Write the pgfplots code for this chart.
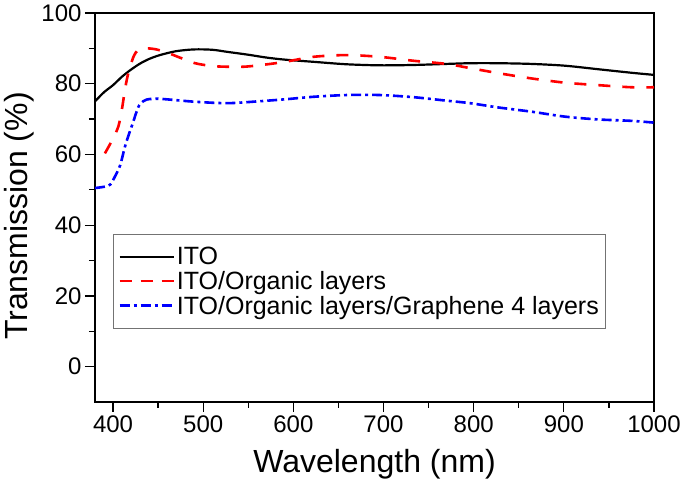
\documentclass[border=0pt]{standalone}
\usepackage{fontspec}
\setmainfont{Liberation Sans}
\usepackage{pgfplots}
\pgfplotsset{compat=1.18}

\begin{document}
\begin{tikzpicture}
  % fix the page to the reference's frame (1px = 1pt)
  \path[use as bounding box] (-95pt,-79pt) rectangle (590pt,402pt);
  \begin{axis}[
      scale only axis,
      width=559pt, height=389pt,
      xmin=380, xmax=1000,
      ymin=-10, ymax=100,
      xtick={400,500,...,1000},
      ytick={0,20,...,100},
      minor x tick num=1,
      minor y tick num=1,
      tick align=outside,
      tick pos=left,
      major tick length=10pt,
      minor tick length=6pt,
      every tick/.style={black, line width=1.3pt},
      axis line style={line width=1.5pt},
      ticklabel style={font=\fontsize{24}{28}\selectfont},
      /pgf/number format/assume math mode=true,
      /pgf/number format/set thousands separator={},
      xlabel={Wavelength (nm)},
      ylabel={Transmission (\%)},
      label style={font=\fontsize{32}{38}\selectfont},
      xlabel style={at={(axis description cs:0.5,-0.1825)}, anchor=base},
      ylabel style={at={(axis description cs:-0.12,0.478)}, anchor=base},
      legend style={
        at={(axis description cs:0.032,0.432)},
        anchor=north west,
        draw=black!55,
        line width=0.8pt,
        inner xsep=5pt,
        inner ysep=11pt,
        row sep=1pt,
        font=\fontsize{25}{29}\selectfont,
      },
      legend cell align=left,
      legend image code/.code={\draw[#1] (10pt,0pt) -- (64pt,0pt);},
    ]

    % ITO
    \addplot[black, line width=2.2pt, smooth] coordinates {
      (380,75.0) (390,77.6) (400,79.6) (410,82.0) (420,84.0) (430,85.7)
      (440,87.0) (452,88.1) (470,89.2) (490,89.7) (510,89.6) (527,89.0)
      (550,88.2) (570,87.4) (591,86.8) (622,86.2) (659,85.5) (696,85.2)
      (733,85.3) (770,85.6) (796,85.8) (827,85.8) (864,85.6) (901,85.1)
      (938,84.1) (975,83.1) (1000,82.5)
    };
    \addlegendentry{ITO}

    % ITO/Organic layers
    \addplot[red, line width=2.6pt, smooth, dash pattern=on 12pt off 12pt,
      legend image post style={dash pattern=on 12pt off 9pt}] coordinates {
      (391,60.3) (400,64.5) (406,68.0) (410,73.0) (413,78.0) (416,82.0)
      (419,84.8) (423,87.8) (428,89.6) (437,90.0) (448,89.7) (461,88.7)
      (475,87.3) (491,85.8) (510,85.0) (527,84.8) (545,84.8) (565,85.3)
      (591,86.2) (622,87.6) (659,88.1) (696,87.6) (733,86.5) (770,85.6)
      (792,84.6) (827,83.0) (864,81.5) (901,80.3) (938,79.6) (975,79.0)
      (1000,79.0)
    };
    \addlegendentry{ITO/Organic layers}

    % ITO/Organic layers/Graphene 4 layers
    \addplot[blue, line width=2.6pt, smooth,
      dash pattern=on 10pt off 4pt on 3pt off 4pt] coordinates {
      (380,50.5) (391,50.9) (397,51.5) (402,53.7) (408,57.0) (413,62.0)
      (418,66.0) (422,68.9) (426,72.0) (430,74.3) (437,75.5) (444,75.7)
      (454,75.7) (491,74.9) (527,74.5) (560,75.0) (591,75.6) (622,76.3)
      (659,76.8) (696,76.8) (733,76.2) (770,75.2) (796,74.5) (827,73.3)
      (864,72.1) (901,70.7) (938,69.9) (975,69.5) (1000,69.0)
    };
    \addlegendentry{ITO/Organic layers/Graphene 4 layers}
  \end{axis}
\end{tikzpicture}
\end{document}
